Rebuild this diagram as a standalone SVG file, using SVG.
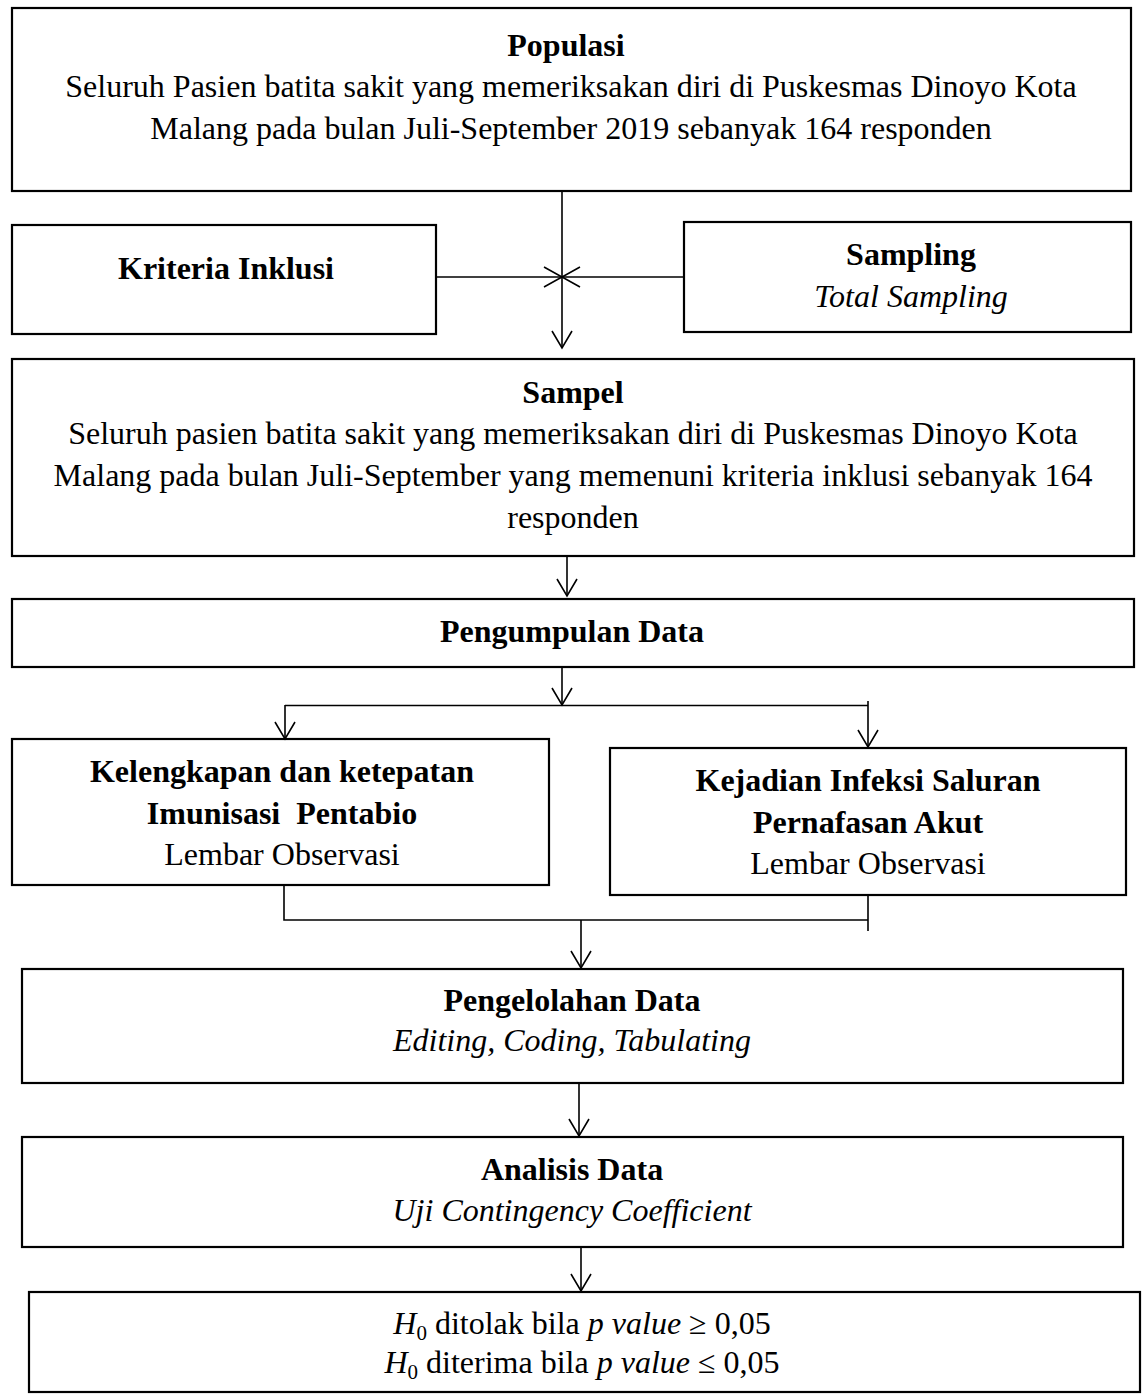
<svg xmlns="http://www.w3.org/2000/svg" width="1143" height="1394" viewBox="0 0 1143 1394">
<style>
.box{fill:#fff;stroke:#000;stroke-width:2.2}
.ln{fill:none;stroke:#000;stroke-width:1.6}
.ah{fill:none;stroke:#000;stroke-width:1.6}
text{font-family:"Liberation Serif","Times New Roman",serif;font-size:32px;fill:#000;text-anchor:middle}
.b{font-weight:bold}
.i{font-style:italic}
</style>
<rect width="1143" height="1394" fill="#fff"/>
<g id="populasi">
<rect class="box" x="12" y="8" width="1119" height="183"/>
<text class="b" x="566" y="56">Populasi</text>
<text x="571" y="97">Seluruh Pasien batita sakit yang memeriksakan diri di Puskesmas Dinoyo Kota</text>
<text x="571" y="139">Malang pada bulan Juli-September 2019 sebanyak 164 responden</text>
</g>
<g id="kriteria">
<rect class="box" x="12" y="225" width="424" height="109"/>
<text class="b" x="226" y="279">Kriteria Inklusi</text>
</g>
<g id="sampling">
<rect class="box" x="684" y="222" width="447" height="110"/>
<text class="b" x="911" y="265">Sampling</text>
<text class="i" x="911" y="307">Total Sampling</text>
</g>
<g id="sampel">
<rect class="box" x="12" y="359" width="1122" height="197"/>
<text class="b" x="573" y="403">Sampel</text>
<text x="573" y="444">Seluruh pasien batita sakit yang memeriksakan diri di Puskesmas Dinoyo Kota</text>
<text x="573" y="486">Malang pada bulan Juli-September yang memenuni kriteria inklusi sebanyak 164</text>
<text x="573" y="528">responden</text>
</g>
<g id="pengumpulan">
<rect class="box" x="12" y="599" width="1122" height="68"/>
<text class="b" x="572" y="642">Pengumpulan Data</text>
</g>
<g id="kelengkapan">
<rect class="box" x="12" y="739" width="537" height="146"/>
<text class="b" x="282" y="782">Kelengkapan dan ketepatan</text>
<text class="b" x="282" y="824" xml:space="preserve">Imunisasi  Pentabio</text>
<text x="282" y="865">Lembar Observasi</text>
</g>
<g id="kejadian">
<rect class="box" x="610" y="748" width="516" height="147"/>
<text class="b" x="868" y="791">Kejadian Infeksi Saluran</text>
<text class="b" x="868" y="833">Pernafasan Akut</text>
<text x="868" y="874">Lembar Observasi</text>
</g>
<g id="pengelolahan">
<rect class="box" x="22" y="969" width="1101" height="114"/>
<text class="b" x="572" y="1011">Pengelolahan Data</text>
<text class="i" x="572" y="1051">Editing, Coding, Tabulating</text>
</g>
<g id="analisis">
<rect class="box" x="22" y="1137" width="1101" height="110"/>
<text class="b" x="572" y="1180">Analisis Data</text>
<text class="i" x="572" y="1221">Uji Contingency Coefficient</text>
</g>
<g id="hipotesis">
<rect class="box" x="29" y="1292" width="1111" height="100"/>
<text x="582" y="1334"><tspan class="i">H</tspan><tspan font-size="21" dy="6">0</tspan><tspan dy="-6"> ditolak bila </tspan><tspan class="i">p value</tspan> ≥ 0,05</text>
<text x="582" y="1373"><tspan class="i">H</tspan><tspan font-size="21" dy="6">0</tspan><tspan dy="-6"> diterima bila </tspan><tspan class="i">p value</tspan> ≤ 0,05</text>
</g>
<g id="connectors">
<path class="ln" d="M562 192V348"/>
<path class="ah" d="M552 331L562 348L572 331"/>
<path class="ln" d="M436 277H562"/>
<path class="ah" d="M544 267L562 277L544 287"/>
<path class="ln" d="M684 277H562"/>
<path class="ah" d="M580 267L562 277L580 287"/>
<path class="ln" d="M567 557V596"/>
<path class="ah" d="M557 579L567 596L577 579"/>
<path class="ln" d="M562 668V705"/>
<path class="ah" d="M552 688L562 705L572 688"/>
<path class="ln" d="M285 705.5H868M285 705V739M868 701V747"/>
<path class="ah" d="M275 722L285 739L295 722"/>
<path class="ah" d="M858 730L868 747L878 730"/>
<path class="ln" d="M284 885V920H868M868 895V931"/>
<path class="ln" d="M581 920V968"/>
<path class="ah" d="M571 951L581 968L591 951"/>
<path class="ln" d="M579 1083V1136"/>
<path class="ah" d="M569 1119L579 1136L589 1119"/>
<path class="ln" d="M581 1247V1291"/>
<path class="ah" d="M571 1274L581 1291L591 1274"/>
</g>
</svg>
